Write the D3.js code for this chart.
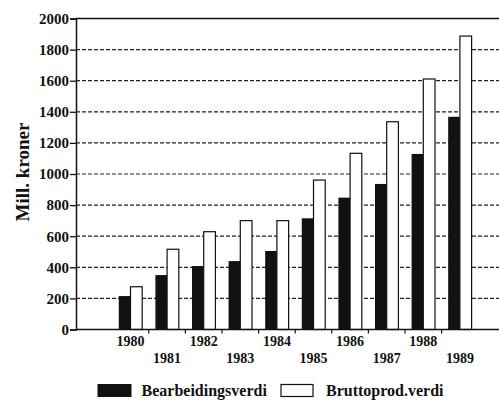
<!DOCTYPE html>
<html>
<head>
<meta charset="utf-8">
<script src="https://cdn.jsdelivr.net/npm/d3@7"></script>
<style>
  html, body { margin: 0; padding: 0; background: #fff; }
  svg { display: block; }
  text { font-family: "Liberation Serif", "Times New Roman", serif; font-weight: bold; fill: #111; }
</style>
</head>
<body>
<svg id="chart" width="499" height="401"></svg>
<script>
const years = ["1980","1981","1982","1983","1984","1985","1986","1987","1988","1989"];
const bearbeidingsverdi = [215, 350, 408, 440, 505, 715, 848, 936, 1129, 1368];
const bruttoprodverdi = [275, 516, 629, 700, 700, 961, 1133, 1336, 1611, 1887];
const yTicks = [0, 200, 400, 600, 800, 1000, 1200, 1400, 1600, 1800, 2000];
const seriesNames = ["Bearbeidingsverdi", "Bruttoprod.verdi"];
const yTitle = "Mill. kroner";

const svg = d3.select("#chart");
const plotLeft = 76, plotRight = 499, plotTop = 18.5, plotBottom = 329.5;

const y = d3.scaleLinear().domain([0, 2000]).range([plotBottom, plotTop]);
const x = d3.scaleBand().domain(years).range([112.2, 478.2]).paddingInner(0.36).paddingOuter(0.18);
const xs = d3.scaleBand().domain(seriesNames).range([0, x.bandwidth()]).padding(0);

// gridlines (dashed)
svg.append("g").selectAll("line").data(yTicks.filter(d => d > 0 && d < 2000)).join("line")
  .attr("x1", plotLeft).attr("x2", plotRight)
  .attr("y1", d => y(d)).attr("y2", d => y(d))
  .attr("stroke", "#222").attr("stroke-width", 1.2).attr("stroke-dasharray", "4,2");

// top solid line
svg.append("line").attr("x1", plotLeft).attr("x2", plotRight)
  .attr("y1", y(2000)).attr("y2", y(2000)).attr("stroke", "#111").attr("stroke-width", 1.5);

// y axis
const yAxis = d3.axisLeft(y).tickValues(yTicks).tickSize(6).tickPadding(1).tickFormat(d3.format("d"));
const gy = svg.append("g").attr("transform", `translate(${plotLeft},0)`).call(yAxis);
gy.select(".domain").attr("stroke", "#111").attr("stroke-width", 1.5);
gy.selectAll(".tick line").attr("stroke", "#111").attr("stroke-width", 1.3);
gy.selectAll(".tick text").style("font-size", "15px").style("font-family", "'Liberation Serif', serif")
  .style("font-weight", "bold").attr("fill", "#111");

// bars
const groups = svg.append("g").selectAll("g").data(years).join("g")
  .attr("transform", d => `translate(${x(d)},0)`);
groups.append("rect")
  .attr("x", xs("Bearbeidingsverdi")).attr("width", xs.bandwidth())
  .attr("y", (d, i) => y(bearbeidingsverdi[i]))
  .attr("height", (d, i) => plotBottom - y(bearbeidingsverdi[i]))
  .attr("fill", "#111");
groups.append("rect")
  .attr("x", xs("Bruttoprod.verdi")).attr("width", xs.bandwidth())
  .attr("y", (d, i) => y(bruttoprodverdi[i]))
  .attr("height", (d, i) => plotBottom - y(bruttoprodverdi[i]))
  .attr("fill", "#fff").attr("stroke", "#111").attr("stroke-width", 1.2);

// x axis baseline
svg.append("line").attr("x1", plotLeft).attr("x2", plotRight)
  .attr("y1", plotBottom).attr("y2", plotBottom).attr("stroke", "#111").attr("stroke-width", 1.6);

// x ticks at group boundaries
const step = x.step();
svg.append("g").selectAll("line").data(years.slice(0, -1)).join("line")
  .attr("x1", d => x(d) + x.bandwidth() / 2 + step / 2)
  .attr("x2", d => x(d) + x.bandwidth() / 2 + step / 2)
  .attr("y1", plotBottom).attr("y2", plotBottom + 4)
  .attr("stroke", "#111").attr("stroke-width", 1.2);

// x labels, alternating rows
svg.append("g").selectAll("text").data(years).join("text")
  .attr("x", d => x(d) + x.bandwidth() / 2)
  .attr("y", (d, i) => i % 2 === 0 ? 346 : 363)
  .attr("text-anchor", "middle")
  .style("font-size", "14px")
  .text(d => d);

// y title
svg.append("text")
  .attr("transform", "translate(29,172) rotate(-90)")
  .attr("text-anchor", "middle")
  .style("font-size", "19px")
  .text(yTitle);

// legend
const legend = svg.append("g");
legend.append("rect").attr("x", 97.5).attr("y", 384).attr("width", 34).attr("height", 13).attr("fill", "#111");
legend.append("text").attr("x", 141.5).attr("y", 396).style("font-size", "16px").text(seriesNames[0]);
legend.append("rect").attr("x", 281).attr("y", 384.5).attr("width", 32).attr("height", 12)
  .attr("fill", "#fff").attr("stroke", "#111").attr("stroke-width", 1.2);
legend.append("text").attr("x", 326).attr("y", 396).style("font-size", "16px").text(seriesNames[1]);
</script>
</body>
</html>
